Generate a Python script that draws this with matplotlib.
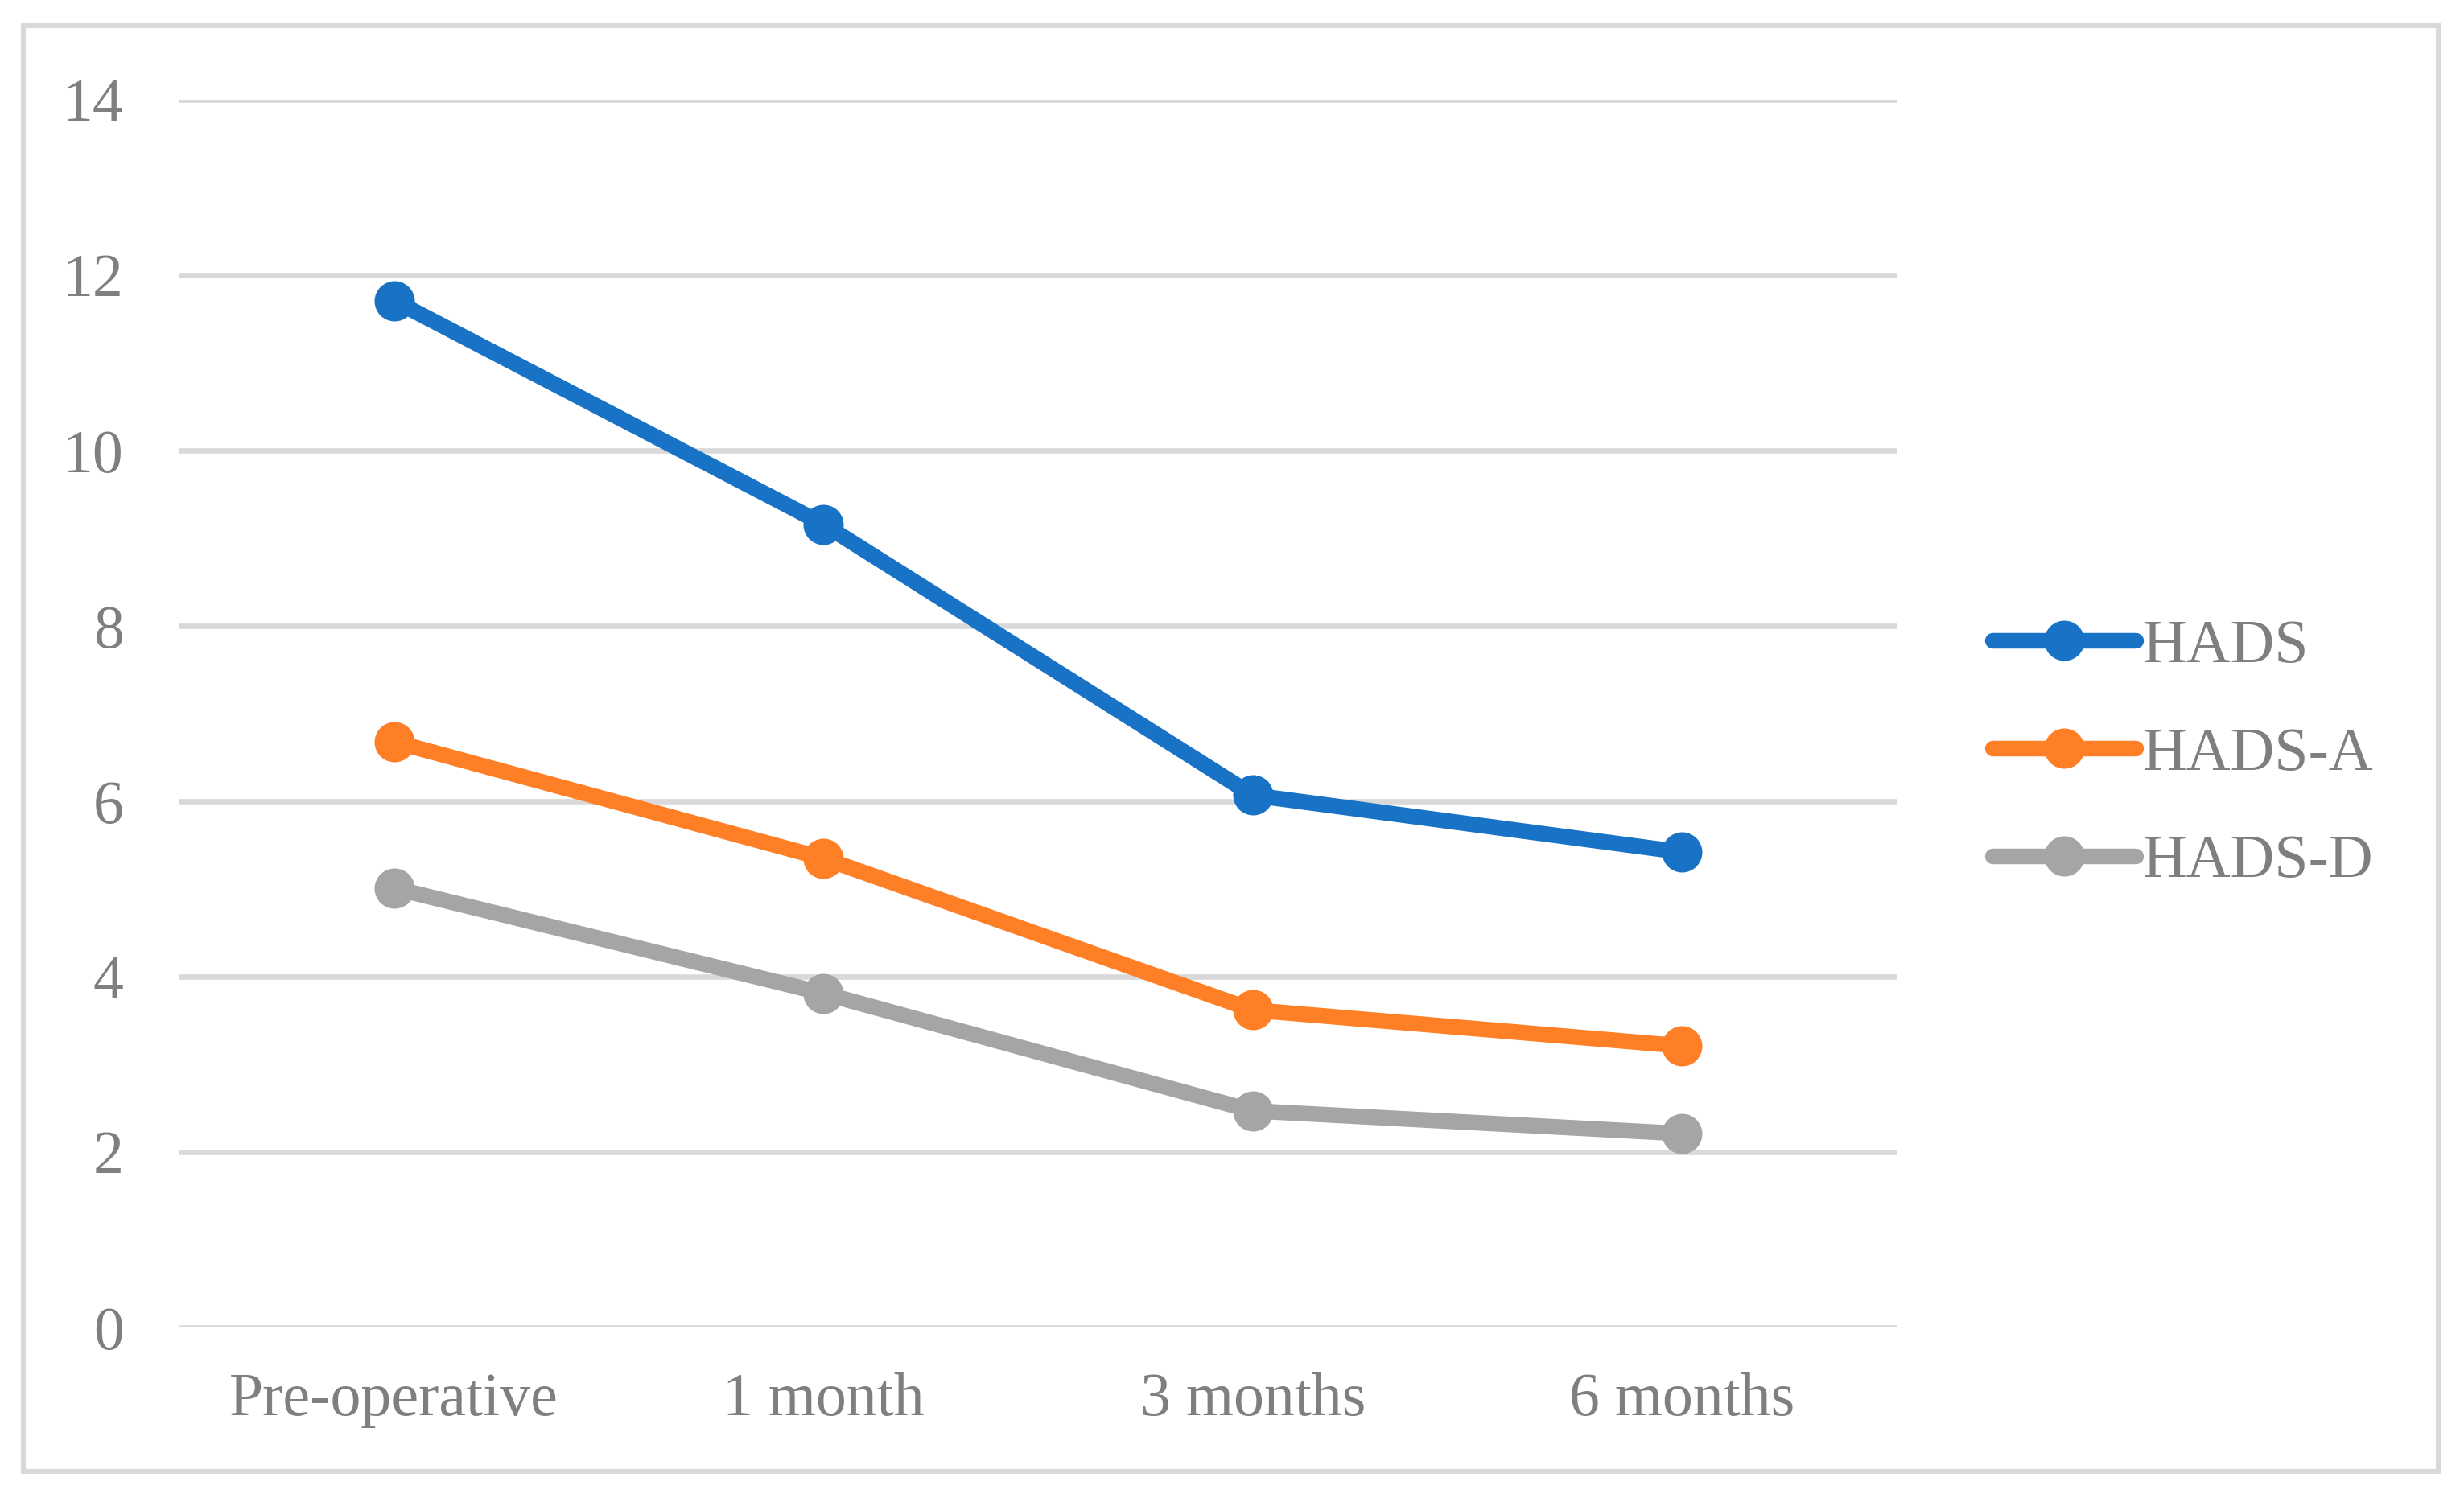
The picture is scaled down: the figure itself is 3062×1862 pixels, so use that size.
import matplotlib.pyplot as plt
from matplotlib.patches import Rectangle

categories = ["Pre-operative", "1 month", "3 months", "6 months"]
hads = [11.71, 9.16, 6.07, 5.42]
hads_a = [6.68, 5.35, 3.62, 3.21]
hads_d = [5.01, 3.81, 2.47, 2.21]
y_ticks = [0, 2, 4, 6, 8, 10, 12, 14]

series = [
    ("HADS", hads, "#1872C6"),
    ("HADS-A", hads_a, "#FF7F27"),
    ("HADS-D", hads_d, "#A5A5A5"),
]

W, H, DPI = 3062, 1862, 200
plt.rcParams["font.family"] = ["Liberation Serif", "DejaVu Serif"]
text_color = "#7F7F7F"
grid_color = "#D9D9D9"
fs = 27.3

fig = plt.figure(figsize=(W / DPI, H / DPI), dpi=DPI)
fig.patches.append(Rectangle((29 / W, 1 - 1829 / H), (3030 - 29) / W, (1829 - 32) / H,
                             transform=fig.transFigure, fill=False,
                             edgecolor=grid_color, linewidth=2.2))

ax = fig.add_axes([223 / W, 212 / H, (2357 - 223) / W, (1650 - 124) / H])
x = range(len(categories))
for name, vals, col in series:
    ax.plot(x, vals, color=col, linewidth=7, marker="o", markersize=17,
            label=name, solid_capstyle="round", solid_joinstyle="round", zorder=3)

ax.set_xlim(-0.5, len(categories) - 0.5)
ax.set_ylim(0, 14)
ax.set_yticks(y_ticks)
ax.set_xticks(list(x))
ax.set_xticklabels(categories)
for s in ax.spines.values():
    s.set_visible(False)
ax.yaxis.grid(True, color=grid_color, linewidth=2.4)
ax.set_axisbelow(True)
ax.tick_params(axis="both", length=0, labelsize=fs, labelcolor=text_color)
ax.tick_params(axis="y", pad=25)
ax.tick_params(axis="x", pad=20)

leg = fig.legend(loc="center left", bbox_to_anchor=(2476 / W, 1 - 938 / H),
                 frameon=False, fontsize=fs, handlelength=2.35, handletextpad=0.12,
                 labelspacing=0.85, borderpad=0, borderaxespad=0)
for t in leg.get_texts():
    t.set_color(text_color)

fig.savefig("out.png", dpi=DPI)
